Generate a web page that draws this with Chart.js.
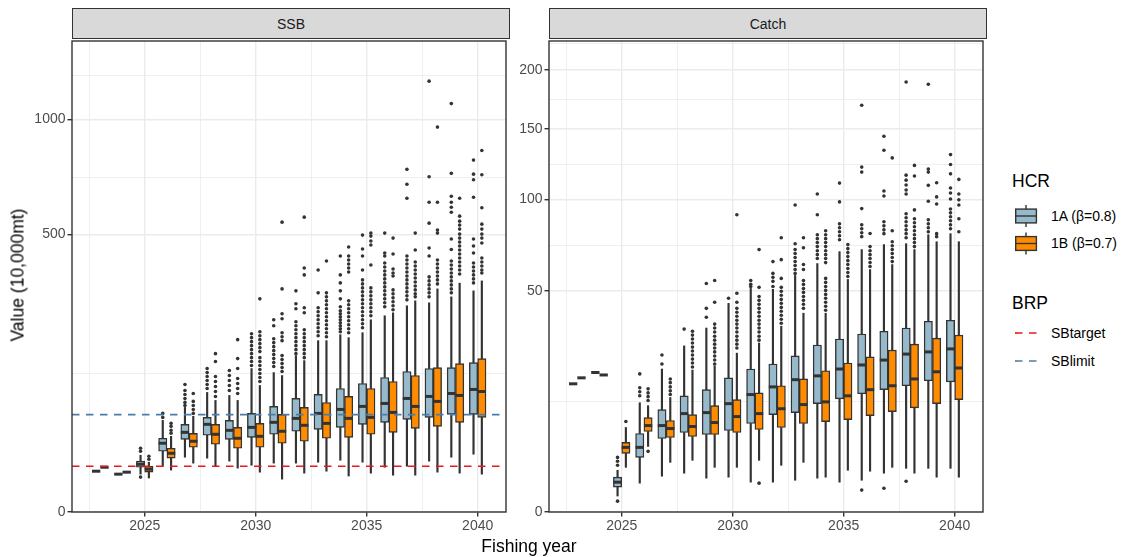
<!DOCTYPE html>
<html>
<head>
<meta charset="utf-8">
<script src="https://cdn.jsdelivr.net/npm/chart.js@4.4.1/dist/chart.umd.min.js"></script>
<style>
  html, body { margin: 0; padding: 0; background: #ffffff; }
  body { width: 1121px; height: 557px; position: relative; overflow: hidden;
         font-family: 'Liberation Sans', Arial, sans-serif; }
  .panel { position: absolute; }
  .strip { position: absolute; box-sizing: border-box; background: #D9D9D9;
           border: 1.4px solid #333333; color: #1A1A1A; font-size: 14px;
           display: flex; align-items: center; justify-content: center; }
  .txt { position: absolute; white-space: nowrap; line-height: 20px; height: 20px; color: #000; }
  .title { font-size: 17.5px; }
  .label { font-size: 14px; }
  #ytitle { position: absolute; left: 18px; top: 275px; font-size: 17.5px; white-space: nowrap;
            transform: translate(-50%, -50%) rotate(-90deg); }
  #xtitle { position: absolute; left: 529px; top: 546px; font-size: 17.5px; white-space: nowrap;
            transform: translate(-50%, -50%); }
  #keys { position: absolute; left: 0; top: 0; pointer-events: none; }
</style>
</head>
<body>

<div class="panel" style="left:0px; top:37px; width:510px; height:509px;"><canvas id="ssb"></canvas></div>
<div class="panel" style="left:509px; top:37px; width:478px; height:509px;"><canvas id="catch"></canvas></div>

<div class="strip" style="left:72px; top:8px; width:438px; height:31px;">SSB</div>
<div class="strip" style="left:549px; top:8px; width:438px; height:31px;">Catch</div>

<div id="ytitle">Value (10,000mt)</div>
<div id="xtitle">Fishing year</div>

<div class="txt title" style="left:1012px; top:171px;">HCR</div>
<div class="txt label" style="left:1051px; top:206px;">1A (β=0.8)</div>
<div class="txt label" style="left:1051px; top:233px;">1B (β=0.7)</div>
<div class="txt title" style="left:1012px; top:293px;">BRP</div>
<div class="txt label" style="left:1051px; top:323px;">SBtarget</div>
<div class="txt label" style="left:1051px; top:351px;">SBlimit</div>

<svg id="keys" width="1121" height="557">
  <g stroke="#333333" stroke-width="1.4">
    <line x1="1026" y1="205" x2="1026" y2="227"/>
    <rect x="1015.7" y="209.1" width="20.7" height="13.8" fill="#96BACB"/>
    <line x1="1015.7" y1="216" x2="1036.4" y2="216"/>
    <line x1="1026" y1="232.5" x2="1026" y2="254.5"/>
    <rect x="1015.7" y="236.6" width="20.7" height="13.8" fill="#FF8C00"/>
    <line x1="1015.7" y1="243.5" x2="1036.4" y2="243.5"/>
  </g>
  <line x1="1015" y1="333" x2="1037" y2="333" stroke="#E41A1C" stroke-width="1.7" stroke-dasharray="7.5 6.5"/>
  <line x1="1015" y1="361" x2="1037" y2="361" stroke="#4A7DAA" stroke-width="1.7" stroke-dasharray="7.5 6.5"/>
</svg>

<script>
// ---- data -------------------------------------------------------------
const YEARS = [2023, 2024, 2025, 2026, 2027, 2028, 2029, 2030, 2031,
               2032, 2033, 2034, 2035, 2036, 2037, 2038, 2039, 2040];

const YEAR_BREAKS  = [2025, 2030, 2035, 2040];
const SSB_BREAKS   = [0, 500, 1000, 1500];
const CATCH_BREAKS = [0, 50, 100, 150, 200, 250];

// reference points (SSB, 10,000 t)
const SBTARGET = 13.6;
const SBLIMIT  = 61.5;

// SSB, HCR 1A (beta = 0.8)
const SSB_1A_LOW  = [10.8, 9.3, 9.3, 13.6, 19.5, 18.8, 16.8, 14.2, 15.5, 15.5, 16.1, 17.4, 16.1, 13.0, 13.6, 16.8, 19.5, 21.7];
const SSB_1A_Q1   = [10.8, 9.3, 13.0, 24.0, 34.3, 38.2, 34.3, 36.2, 39.2, 42.3, 44.4, 46.5, 49.9, 52.2, 55.7, 58.1, 61.9, 61.9];
const SSB_1A_MED  = [10.8, 9.3, 14.8, 30.7, 41.2, 49.9, 43.3, 46.5, 52.2, 56.9, 63.1, 68.3, 72.4, 76.5, 83.7, 86.7, 91.2, 97.5];
const SSB_1A_Q3   = [10.8, 9.3, 16.8, 35.3, 49.9, 58.1, 54.5, 63.1, 72.4, 83.7, 89.7, 99.0, 107.2, 117.4, 128.1, 133.6, 135.4, 144.9];
const SSB_1A_HIGH = [10.8, 9.3, 20.9, 54.5, 71.0, 92.8, 88.2, 133.6, 126.2, 158.8, 190.6, 204.1, 208.7, 250.0, 276.0, 284.1, 300.5, 317.5];
const SSB_1A_OUT  = [
  [], [],
  [26.4, 24.0, 7.9],
  [63.1, 58.1],
  [105.5, 95.9, 89.7, 83.7, 78.0, 73.7],
  [133.6, 126.2, 119.1, 112.2, 105.5, 99.0],
  [129.9, 120.9, 112.2, 103.9, 95.9],
  [206.4, 197.3, 188.4, 179.6, 171.1, 162.8, 154.7, 146.9, 139.2],
  [240.0, 225.2, 195.0, 186.2, 177.5, 169.0, 160.8, 152.8, 144.9, 137.3],
  [317.5, 281.4, 268.1, 235.0, 225.2, 215.7, 206.4, 197.3, 188.4, 179.6, 171.1, 162.8],
  [380.4, 311.8, 270.7, 260.2, 250.0, 239.9, 230.1, 220.5, 211.0, 201.8],
  [425.4, 364.9, 340.7, 317.5, 295.0, 273.3, 262.8, 255.1, 247.4, 239.9, 232.5, 225.2, 218.1, 211.0],
  [497.8, 448.9, 425.4, 380.4, 349.7, 337.8, 326.1, 314.6, 303.3, 292.2, 281.4, 270.7, 260.2, 250.0, 239.9, 230.1, 220.5],
  [505.0, 435.4, 425.4, 402.6, 389.8, 377.2, 364.9, 352.7, 340.7, 329.0, 317.5, 306.1, 295.0, 284.1, 273.3],
  [762.2, 697.2, 639.1, 425.4, 412.3, 399.4, 386.6, 374.1, 361.8, 349.7, 337.8, 326.1, 314.6, 303.3, 292.2],
  [1205, 729.4, 623.0, 541.7, 452.3, 425.4, 358.8, 346.7, 334.8, 323.2, 311.8, 300.5],
  [1082.8, 744.6, 647.3, 623.0, 603.1, 583.6, 483.6, 447.2, 409.0, 396.2, 383.5, 371.0, 358.8, 346.7, 334.8, 323.2, 311.8],
  [804.0, 741.1, 716.4, 643.2, 483.6, 459.2, 435.4, 402.6, 389.8, 377.2, 364.9, 352.7, 340.7]
];

// SSB, HCR 1B (beta = 0.7)
const SSB_1B_LOW  = [13.0, 10.3, 7.5, 11.4, 15.5, 13.6, 12.5, 10.3, 7.0, 9.8, 10.8, 8.4, 9.8, 8.8, 8.8, 10.3, 9.8, 9.3];
const SSB_1B_Q1   = [13.0, 10.3, 10.3, 18.8, 27.2, 29.8, 26.4, 27.2, 30.7, 32.5, 35.3, 36.2, 39.2, 41.2, 45.4, 47.6, 52.2, 58.1];
const SSB_1B_MED  = [13.0, 10.3, 11.9, 22.4, 32.5, 39.2, 35.3, 37.2, 42.3, 48.8, 51.0, 56.9, 58.1, 64.4, 72.4, 79.4, 88.2, 94.3];
const SSB_1B_Q3   = [13.0, 10.3, 13.6, 26.4, 40.2, 49.9, 46.5, 51.0, 61.9, 71.0, 77.9, 86.7, 99.0, 110.5, 120.9, 135.4, 143.0, 152.8];
const SSB_1B_HIGH = [13.0, 10.3, 16.1, 37.2, 59.4, 80.8, 80.8, 103.9, 120.9, 148.8, 190.6, 197.3, 239.9, 257.6, 289.5, 323.2, 340.0, 346.7];
const SSB_1B_OUT  = [
  [], [],
  [20.2, 18.1],
  [51.0, 47.6, 43.3, 40.2],
  [91.2, 79.4, 73.7, 68.3, 63.1],
  [162.8, 146.9, 119.1, 110.5, 102.3, 94.3, 86.7],
  [192.8, 152.8, 133.6, 115.7, 107.2, 99.0, 91.2],
  [295.0, 211.0, 201.8, 192.8, 184.0, 175.4, 167.0, 154.7, 146.9, 139.2, 131.7, 124.5, 117.4, 110.5],
  [545.5, 323.2, 255.1, 242.4, 208.7, 199.5, 190.6, 158.8, 150.8, 143.0, 135.4, 128.1],
  [564.4, 386.6, 364.9, 270.7, 257.6, 215.7, 206.4, 197.3, 188.4, 179.6, 171.1, 162.8, 154.7],
  [409.0, 311.8, 300.5, 289.5, 278.7, 268.1, 257.6, 247.4, 237.4, 227.7, 218.1, 208.7, 199.5],
  [455.7, 425.4, 412.3, 399.4, 386.6, 374.1, 289.5, 278.7, 268.1, 257.6, 247.4, 237.4, 227.7, 218.1, 208.7],
  [505.0, 494.2, 476.6, 462.6, 396.2, 326.1, 314.6, 303.3, 292.2, 281.4, 270.7, 260.2, 250.0],
  [487.1, 432.1, 383.5, 371.0, 361.8, 320.3, 308.9, 297.7, 286.8, 276.0, 265.4],
  [505.0, 445.5, 405.8, 393.0, 380.4, 367.9, 355.7, 343.6, 331.8, 320.3, 308.9, 300.5],
  [961.7, 623.0, 515.9, 505.0, 412.3, 399.4, 386.6, 374.1, 361.8, 349.7, 337.8],
  [639.1, 568.2, 549.2, 534.3, 519.5, 501.4, 487.1, 473.0, 459.2, 445.5, 432.1, 418.8, 405.8, 393.0, 380.4, 367.9],
  [848.7, 738.1, 601.2, 538.0, 519.5, 501.4, 487.1, 469.6, 418.8, 405.8, 393.0, 380.4, 371.0]
];

// Catch, HCR 1A (beta = 0.8)
const CATCH_1A_LOW  = [16.8, 19.9, 0.26, 0.85, 1.31, 1.54, 1.17, 1.24, 0.91, 0.91, 1.03, 1.17, 0.91, 1.03, 1.54, 1.95, 1.95, 1.95];
const CATCH_1A_Q1   = [16.8, 19.9, 0.63, 3.05, 5.53, 6.46, 6.14, 6.79, 8.0, 9.70, 10.1, 12.0, 13.1, 14.3, 15.3, 16.3, 17.6, 17.3];
const CATCH_1A_MED  = [16.8, 19.9, 0.91, 4.27, 7.64, 9.90, 10.1, 12.0, 14.1, 16.0, 17.9, 18.95, 20.9, 22.1, 23.6, 25.5, 26.2, 27.2];
const CATCH_1A_Q3   = [16.8, 19.9, 1.24, 6.30, 10.7, 13.8, 15.3, 18.4, 20.9, 22.4, 24.9, 28.5, 30.6, 32.4, 33.4, 34.6, 37.2, 37.6];
const CATCH_1A_HIGH = [16.8, 19.9, 1.78, 12.2, 20.9, 28.2, 34.6, 44.5, 51.1, 50.7, 57.2, 63.1, 69.3, 70.4, 73.1, 73.6, 78.6, 79.2];
const CATCH_1A_OUT  = [
  [], [],
  [3.05, 2.63, 2.23, 0.12],
  [19.5, 15.8, 14.8, 13.8],
  [25.2, 22.4],
  [34.2],
  [53.4, 42.4, 38.8],
  [46.7],
  [54.8, 53.0, 52.0],
  [64.1, 58.2, 56.3, 54.4, 52.0],
  [96.4, 73.6, 70.4, 68.3, 66.2, 64.1, 62.1, 60.1, 58.2],
  [103.4, 90.3, 78.6, 76.4, 74.2, 72.0, 69.8, 67.7, 65.7],
  [110.6, 98.3, 84.9, 82.6, 80.3, 78.0, 75.8],
  [169.2, 121.6, 118.1, 94.1, 84.3, 82.0, 79.7, 77.5, 0.49],
  [144.3, 133.8, 105.3, 102.1, 86.1, 83.7, 81.4, 79.2, 0.58],
  [189.0, 116.0, 112.6, 109.3, 106.0, 103.4, 90.9, 88.5, 86.1, 83.7, 81.4, 79.2, 76.9, 0.97],
  [187.0, 120.2, 118.1, 109.1, 98.7, 87.3, 84.9, 82.6, 80.3],
  [130.6, 123.5, 116.9, 107.3, 104.0, 100.2, 93.9, 91.5, 89.1, 86.7, 84.3, 82.0]
];

// Catch, HCR 1B (beta = 0.7)
const CATCH_1B_LOW  = [18.4, 19.2, 2.04, 4.40, 2.52, 2.73, 2.04, 2.04, 2.73, 2.23, 2.52, 1.24, 1.78, 1.70, 2.04, 1.54, 1.24, 1.24];
const CATCH_1B_Q1   = [18.4, 19.2, 3.51, 6.62, 5.68, 5.83, 6.14, 6.46, 6.96, 7.30, 8.0, 8.36, 8.73, 9.50, 10.3, 11.1, 12.0, 12.9];
const CATCH_1B_MED  = [18.4, 19.2, 4.27, 7.64, 7.12, 7.47, 8.18, 9.31, 9.90, 10.9, 11.8, 12.4, 13.8, 15.3, 16.3, 18.1, 20.1, 21.2];
const CATCH_1B_Q3   = [18.4, 19.2, 4.95, 9.11, 8.55, 9.70, 11.56, 12.9, 14.5, 16.3, 18.1, 20.4, 22.7, 24.6, 26.8, 28.8, 30.9, 32.0];
const CATCH_1B_HIGH = [18.4, 19.2, 7.30, 11.56, 13.4, 20.6, 21.8, 25.8, 29.2, 35.3, 40.4, 40.4, 55.3, 60.1, 62.6, 70.4, 74.7, 74.7];
const CATCH_1B_OUT  = [
  [], [],
  [8.36],
  [15.5, 14.5, 13.6, 12.7, 3.76],
  [18.1, 17.1, 16.0, 15.0, 14.1],
  [33.4, 32.0, 30.6, 29.2, 27.8, 26.5, 25.2, 23.9, 22.7, 21.5],
  [54.8, 45.0, 36.1, 34.6, 33.1, 31.6, 30.2, 28.8, 27.5, 26.2, 24.9, 23.6, 22.4],
  [90.3, 48.9, 45.0, 42.4, 40.8, 39.2, 37.6, 36.1, 34.6, 33.1, 31.6, 30.2, 28.8, 27.5],
  [70.4, 51.6, 47.5, 45.8, 44.1, 42.4, 40.8, 39.2, 37.6, 36.1, 34.6, 33.1, 31.6, 30.2, 0.85],
  [76.9, 65.1, 55.8, 51.6, 49.8, 48.0, 46.2, 44.5, 42.8, 41.2, 39.6, 38.0, 36.4],
  [76.9, 71.4, 62.6, 60.1, 54.8, 52.95, 51.1, 49.3, 47.5, 45.8, 44.1, 42.4],
  [80.9, 78.6, 76.4, 74.2, 72.0, 69.8, 67.7, 65.7, 63.6, 55.8, 53.9, 52.0, 50.2, 48.4, 46.7, 45.0, 43.3, 41.6],
  [73.1, 70.9, 68.8, 66.7, 64.6, 62.6, 60.6, 58.6, 56.7],
  [79.3, 72.0, 69.8, 67.7, 65.7, 63.6, 61.6],
  [128.2, 80.9, 74.7, 72.5, 70.4, 68.3, 66.2, 64.1],
  [122.8, 115.4, 93.3, 87.9, 85.5, 83.2, 80.9, 78.6, 76.4, 74.2, 72.0],
  [110.8, 101.5, 97.0, 79.2, 77.5],
  [113.1, 103.4, 99.6, 96.4, 87.9, 80.3]
];

// ---- appearance -------------------------------------------------------
const INK = '#333333';
const FILL_1A = '#96BACB';
const FILL_1B = '#FF8C00';
const COL_TARGET = '#E41A1C';
const COL_LIMIT = '#4A7DAA';
const GRID = '#EBEBEB';
const DODGE = 0.1875;          // each HCR is shifted this far from the year
const BOX_WIDTH = 0.375;       // width of one box, in years
const X_MIN = 2021.724, X_MAX = 2041.276;
const SSB_TOP = 1440.2, CATCH_TOP = 226.8;

Chart.defaults.font.family = "'Liberation Sans', Arial, sans-serif";
Chart.defaults.font.size = 14;
Chart.defaults.color = '#4D4D4D';

const sq = Math.sqrt;

function halfBox(ctx) {
  const s = ctx.chart.scales.x;
  return Math.abs(s.getPixelForValue(X_MIN + BOX_WIDTH) - s.getPixelForValue(X_MIN)) / 2;
}

// one HCR's boxplots: whiskers, boxes, medians, outliers (values on a sqrt axis)
function boxplotDatasets(low, q1, med, q3, high, out, sign, fill) {
  const xs = YEARS.map(y => y + sign * DODGE);
  const whiskers = [], boxes = [], medians = [], outliers = [];
  xs.forEach((x, i) => {
    whiskers.push({ x, y: [sq(low[i]), sq(q1[i])] });
    whiskers.push({ x, y: [sq(q3[i]), sq(high[i])] });
    boxes.push({ x, y: [sq(q1[i]), sq(q3[i])] });
    medians.push({ x, y: sq(med[i]) });
    out[i].forEach(v => outliers.push({ x, y: sq(v) }));
  });
  return [
    { type: 'bar', data: whiskers, order: 5, grouped: false, barThickness: 1.5,
      backgroundColor: INK, borderWidth: 0 },
    { type: 'bar', data: boxes, order: 4, grouped: false, categoryPercentage: 1, barPercentage: 1,
      backgroundColor: fill, borderColor: INK, borderWidth: 1.4, borderSkipped: false },
    { type: 'scatter', data: medians, order: 3, pointStyle: 'line', pointRadius: halfBox,
      pointBorderWidth: 3, pointBorderColor: INK, pointBackgroundColor: INK },
    { type: 'scatter', data: outliers, order: 2, pointRadius: 1.8,
      pointBackgroundColor: INK, pointBorderWidth: 0 }
  ];
}

function hline(value, color) {
  return { type: 'line', order: 1, data: [{ x: X_MIN, y: sq(value) }, { x: X_MAX, y: sq(value) }],
           borderColor: color, borderWidth: 1.7, borderDash: [7.5, 6.5], pointRadius: 0, fill: false };
}

// major breaks plus minor breaks half way between them
function withMinors(majors, f, lo, hi) {
  const t = [];
  majors.forEach((m, i) => {
    t.push({ value: f(m), major: true });
    if (i < majors.length - 1) t.push({ value: (f(m) + f(majors[i + 1])) / 2, major: false });
  });
  return t.filter(k => k.value >= lo - 1e-9 && k.value <= hi + 1e-9);
}

const gridOpts = {
  offset: false,
  color: GRID,
  lineWidth: c => (c.tick && c.tick.major) ? 1.4 : 0.8,
  drawTicks: true,
  tickLength: 4.5,
  tickWidth: 1.4,
  tickColor: c => (c.tick && c.tick.major) ? INK : 'rgba(0,0,0,0)'
};

const panelFrame = {
  id: 'panelFrame',
  afterDraw(chart) {
    const { ctx, chartArea: a } = chart;
    ctx.save();
    ctx.strokeStyle = INK;
    ctx.lineWidth = 1.4;
    ctx.strokeRect(a.left, a.top, a.right - a.left, a.bottom - a.top);
    ctx.restore();
  }
};

function panelOptions(yBreaks, top, yWidth) {
  const yMax = sq(top);
  return {
    animation: false,
    responsive: true,
    maintainAspectRatio: false,
    events: [],
    layout: { padding: { top: 1, right: 1, left: 0, bottom: 0 } },
    plugins: { legend: { display: false }, tooltip: { enabled: false } },
    scales: {
      x: {
        type: 'linear', min: X_MIN, max: X_MAX, offset: false, bounds: 'data',
        afterBuildTicks: s => {
          const pre = YEAR_BREAKS[0] - (YEAR_BREAKS[1] - YEAR_BREAKS[0]);
          s.ticks = withMinors([pre].concat(YEAR_BREAKS), v => v, X_MIN, X_MAX);
        },
        afterFit: s => { s.height = 34; s.paddingLeft = 0; s.paddingRight = 0; },
        ticks: { autoSkip: false, maxRotation: 0, minRotation: 0, padding: 1, color: '#4D4D4D',
                 callback: (v, i, t) => t[i].major ? String(v) : '' },
        grid: gridOpts,
        border: { display: false }
      },
      y: {
        type: 'linear', min: 0, max: yMax, bounds: 'data',
        afterBuildTicks: s => { s.ticks = withMinors(yBreaks, sq, 0, yMax); },
        afterFit: s => { s.width = yWidth; s.paddingTop = 0; s.paddingBottom = 0; },
        ticks: { autoSkip: false, padding: 2, color: '#4D4D4D',
                 callback: (v, i, t) => t[i].major ? String(Math.round(v * v)) : '' },
        grid: gridOpts,
        border: { display: false }
      }
    }
  };
}

new Chart(document.getElementById('ssb'), {
  type: 'scatter',
  data: {
    datasets: [
      ...boxplotDatasets(SSB_1A_LOW, SSB_1A_Q1, SSB_1A_MED, SSB_1A_Q3, SSB_1A_HIGH, SSB_1A_OUT, -1, FILL_1A),
      ...boxplotDatasets(SSB_1B_LOW, SSB_1B_Q1, SSB_1B_MED, SSB_1B_Q3, SSB_1B_HIGH, SSB_1B_OUT, 1, FILL_1B),
      hline(SBTARGET, COL_TARGET),
      hline(SBLIMIT, COL_LIMIT)
    ]
  },
  options: panelOptions(SSB_BREAKS, SSB_TOP, 72),
  plugins: [panelFrame]
});

new Chart(document.getElementById('catch'), {
  type: 'scatter',
  data: {
    datasets: [
      ...boxplotDatasets(CATCH_1A_LOW, CATCH_1A_Q1, CATCH_1A_MED, CATCH_1A_Q3, CATCH_1A_HIGH, CATCH_1A_OUT, -1, FILL_1A),
      ...boxplotDatasets(CATCH_1B_LOW, CATCH_1B_Q1, CATCH_1B_MED, CATCH_1B_Q3, CATCH_1B_HIGH, CATCH_1B_OUT, 1, FILL_1B)
    ]
  },
  options: panelOptions(CATCH_BREAKS, CATCH_TOP, 40),
  plugins: [panelFrame]
});
</script>
</body>
</html>
